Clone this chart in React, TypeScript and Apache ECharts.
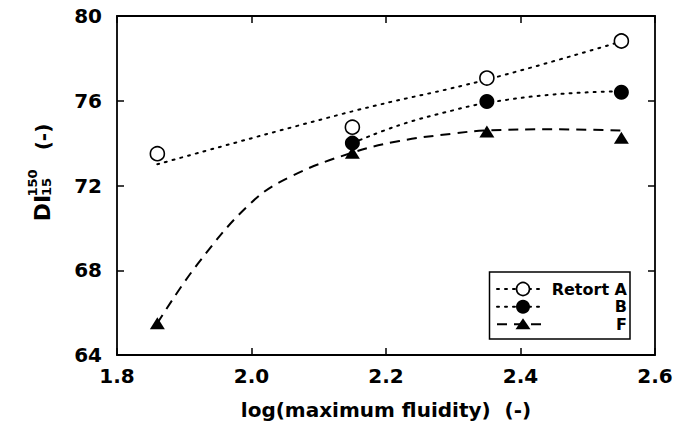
import React, { useEffect, useRef } from "react";
import * as echarts from "echarts";

// Measured points (x = log(maximum fluidity), y = DI 150/15)
const retortA: [number, number][] = [
  [1.86, 73.5],
  [2.15, 74.75],
  [2.35, 77.07],
  [2.55, 78.82],
];
const retortB: [number, number][] = [
  [2.15, 74.0],
  [2.35, 75.97],
  [2.55, 76.4],
];
const retortF: [number, number][] = [
  [1.86, 65.5],
  [2.15, 73.55],
  [2.35, 74.55],
  [2.55, 74.25],
];

// Fitted trend curves
const fitA: [number, number][] = [
  [1.86, 73.0],
  [2.15, 75.5],
  [2.35, 77.0],
  [2.55, 78.8],
];
const fitB: [number, number][] = [
  [2.15, 74.0],
  [2.22, 74.85],
  [2.3, 75.55],
  [2.35, 75.9],
  [2.45, 76.3],
  [2.55, 76.45],
];
const fitF: [number, number][] = [
  [1.86, 65.5],
  [1.92, 68.3],
  [2.0, 71.2],
  [2.06, 72.45],
  [2.15, 73.55],
  [2.22, 74.1],
  [2.3, 74.45],
  [2.35, 74.6],
  [2.45, 74.65],
  [2.55, 74.6],
];

const legendLabels = ["Retort A", "B", "F"];
const xTitle = "log(maximum fluidity)  (-)";

const FONT = "DejaVu Sans";

export default function App() {
  const ref = useRef<HTMLDivElement>(null);
  useEffect(() => {
    document.body.style.margin = "0";
    const chart = echarts.init(ref.current!, null, { renderer: "svg" });
    const axisLine = { show: true, onZero: false, lineStyle: { color: "#000", width: 1.8 } };
    const tick = { show: true, inside: true, length: 7, lineStyle: { color: "#000", width: 1.5 } };
    const label = {
      color: "#000",
      fontFamily: FONT,
      fontWeight: "bold" as const,
      fontSize: 20,
    };
    const legX0 = 497;
    const legX1 = 543;
    const legSym = 523;
    const rows = [289, 306.7, 324.3];
    const textRight = 627;
    const legendText = legendLabels.map((t, i) => ({
      type: "text",
      x: textRight,
      y: rows[i],
      style: {
        text: t,
        fill: "#000",
        font: `bold 16px "${FONT}"`,
        textAlign: "right",
        textVerticalAlign: "middle",
      },
    }));
    chart.setOption({
      animation: false,
      backgroundColor: "#fff",
      grid: { left: 117, right: 33, top: 16, bottom: 68, containLabel: false },
      xAxis: [
        {
          type: "value",
          min: 1.8,
          max: 2.6,
          interval: 0.2,
          axisLine,
          axisTick: tick,
          splitLine: { show: false },
          axisLabel: { ...label, margin: 11, formatter: (v: number) => v.toFixed(1) },
        },
        {
          type: "value",
          position: "top",
          min: 1.8,
          max: 2.6,
          interval: 0.2,
          axisLine,
          axisTick: tick,
          splitLine: { show: false },
          axisLabel: { show: false },
        },
      ],
      yAxis: [
        {
          type: "value",
          min: 64,
          max: 80,
          interval: 4,
          axisLine,
          axisTick: tick,
          splitLine: { show: false },
          axisLabel: { ...label, margin: 15 },
        },
        {
          type: "value",
          position: "right",
          min: 64,
          max: 80,
          interval: 4,
          axisLine,
          axisTick: tick,
          splitLine: { show: false },
          axisLabel: { show: false },
        },
      ],
      series: [
        {
          type: "line",
          data: fitA,
          smooth: 0.4,
          symbol: "none",
          lineStyle: { color: "#000", width: 2, type: [2, 6], cap: "round" },
          z: 2,
        },
        {
          type: "line",
          data: fitB,
          smooth: 0.4,
          symbol: "none",
          lineStyle: { color: "#000", width: 2, type: [2, 6], cap: "round" },
          z: 2,
        },
        {
          type: "line",
          data: fitF,
          smooth: 0.4,
          symbol: "none",
          lineStyle: { color: "#000", width: 2, type: [10, 7] },
          z: 2,
        },
        {
          type: "scatter",
          data: retortA,
          symbol: "circle",
          symbolSize: 14,
          itemStyle: { color: "#fff", borderColor: "#000", borderWidth: 1.6, opacity: 1 },
          z: 5,
        },
        {
          type: "scatter",
          data: retortB,
          symbol: "circle",
          symbolSize: 15,
          itemStyle: { color: "#000", opacity: 1 },
          z: 5,
        },
        {
          type: "scatter",
          data: retortF,
          symbol: "triangle",
          symbolSize: [15, 12],
          itemStyle: { color: "#000", opacity: 1 },
          z: 5,
        },
      ],
      graphic: [
        {
          type: "text",
          x: 386,
          y: 410,
          style: {
            text: xTitle,
            fill: "#000",
            font: `bold 20px "${FONT}"`,
            textAlign: "center",
            textVerticalAlign: "middle",
          },
        },
        {
          type: "text",
          x: 42,
          y: 208,
          rotation: Math.PI / 2,
          style: {
            text: "DI",
            fill: "#000",
            font: `bold 22px "${FONT}"`,
            textAlign: "center",
            textVerticalAlign: "middle",
          },
        },
        {
          type: "text",
          x: 32,
          y: 183,
          rotation: Math.PI / 2,
          style: {
            text: "150",
            fill: "#000",
            font: `bold 13px "${FONT}"`,
            textAlign: "center",
            textVerticalAlign: "middle",
          },
        },
        {
          type: "text",
          x: 46,
          y: 187,
          rotation: Math.PI / 2,
          style: {
            text: "15",
            fill: "#000",
            font: `bold 13px "${FONT}"`,
            textAlign: "center",
            textVerticalAlign: "middle",
          },
        },
        {
          type: "text",
          x: 43,
          y: 137,
          rotation: Math.PI / 2,
          style: {
            text: "(-)",
            fill: "#000",
            font: `bold 20px "${FONT}"`,
            textAlign: "center",
            textVerticalAlign: "middle",
          },
        },
        {
          type: "rect",
          shape: { x: 489.5, y: 272, width: 140.5, height: 67 },
          style: { fill: "#fff", stroke: "#000", lineWidth: 1.5 },
          z: 10,
        },
        {
          type: "line",
          shape: { x1: legX0, y1: rows[0], x2: legX1, y2: rows[0] },
          style: { stroke: "#000", lineWidth: 2, lineDash: [2, 6], lineCap: "round" },
          z: 11,
        },
        {
          type: "line",
          shape: { x1: legX0, y1: rows[1], x2: legX1, y2: rows[1] },
          style: { stroke: "#000", lineWidth: 2, lineDash: [2, 6], lineCap: "round" },
          z: 11,
        },
        {
          type: "line",
          shape: { x1: legX0, y1: rows[2], x2: legX1, y2: rows[2] },
          style: { stroke: "#000", lineWidth: 2, lineDash: [10, 7] },
          z: 11,
        },
        {
          type: "circle",
          shape: { cx: legSym, cy: rows[0], r: 6.5 },
          style: { fill: "#fff", stroke: "#000", lineWidth: 1.6 },
          z: 12,
        },
        {
          type: "circle",
          shape: { cx: legSym, cy: rows[1], r: 7 },
          style: { fill: "#000" },
          z: 12,
        },
        {
          type: "polygon",
          shape: {
            points: [
              [legSym, rows[2] - 6],
              [legSym - 7.5, rows[2] + 5],
              [legSym + 7.5, rows[2] + 5],
            ],
          },
          style: { fill: "#000" },
          z: 12,
        },
        ...legendText.map((t) => ({ ...t, z: 12 })),
      ],
    });
    return () => chart.dispose();
  }, []);
  return (
    <div
      ref={ref}
      style={{ position: "absolute", left: 0, top: 0, width: 688, height: 423 }}
    />
  );
}
